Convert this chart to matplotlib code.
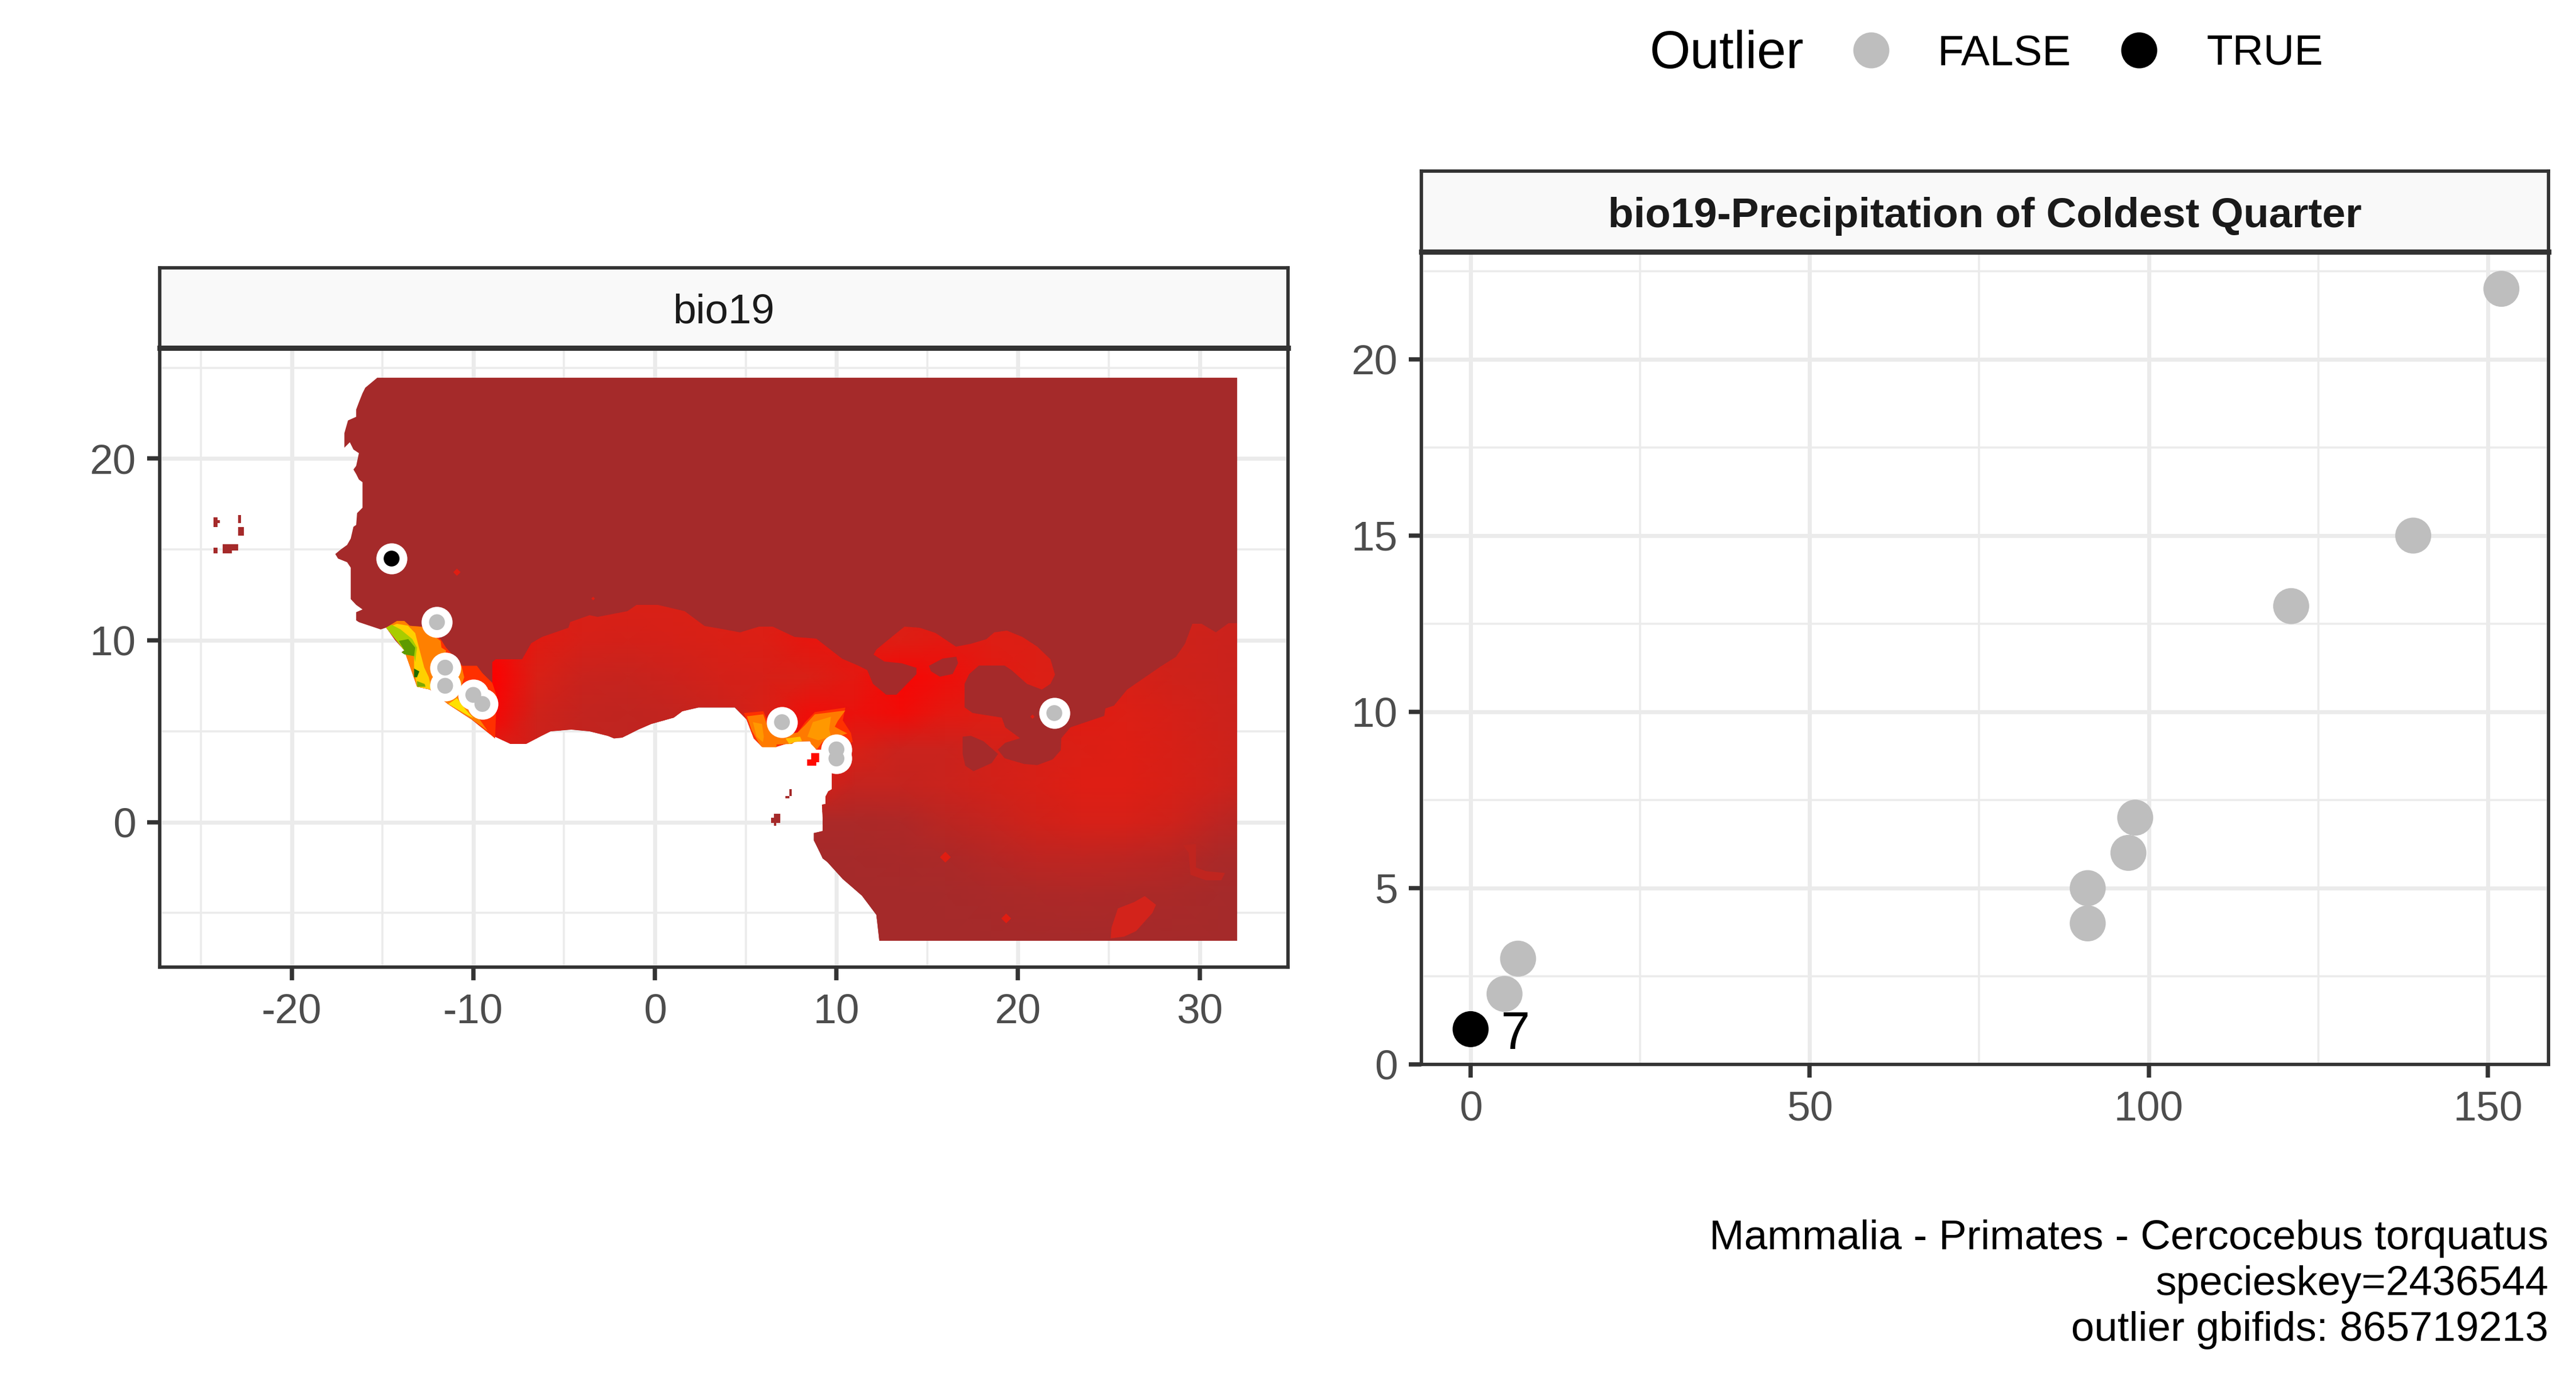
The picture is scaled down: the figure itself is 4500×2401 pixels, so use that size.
import numpy as np
import matplotlib
matplotlib.use("Agg")
import matplotlib.pyplot as plt
from matplotlib.colors import LinearSegmentedColormap
from matplotlib.patches import Polygon

plt.rcParams["font.family"] = ["Liberation Sans", "DejaVu Sans"]

# ---- scatter panel
precip = [0, 5, 7, 91, 91, 97, 98, 121, 139, 152]
occurrences = [1, 2, 3, 4, 5, 6, 7, 13, 15, 22]
is_outlier = [True, False, False, False, False, False, False, False, False, False]

# ---- occurrence points on the map
point_lon = [-14.5, -12.0, -11.55, -11.55, -10.0, -9.5, 7.0, 10.0, 10.0, 22.0]
point_lat = [14.5, 11.0, 8.5, 7.5, 7.0, 6.5, 5.5, 4.0, 3.5, 6.0]
point_outlier = [True, False, False, False, False, False, False, False, False, False]

# ---- land outline, lon/lat
north_coast = [(-15.29, 24.45), (-15.95, 23.9), (-16.1, 23.6), (-16.3, 23.1), (-16.45, 22.7), (-16.45, 22.3),
               (-16.9, 22.1), (-17.1, 21.4), (-17.1, 20.6), (-16.8, 20.9), (-16.6, 20.5), (-16.3, 20.3),
               (-16.45, 19.6), (-16.6, 19.4), (-16.45, 19.15), (-16.3, 18.85), (-16.1, 18.7), (-16.1, 17.3),
               (-16.4, 17.0), (-16.45, 16.35), (-16.6, 16.25), (-16.75, 15.6), (-16.95, 15.25), (-17.3, 15.0),
               (-17.6, 14.75), (-17.45, 14.5), (-16.95, 14.3), (-16.75, 14.0), (-16.75, 12.27), (-16.45, 11.95),
               (-16.1, 11.7), (-16.45, 11.55), (-16.45, 11.1), (-16.3, 11.0), (-15.1, 10.6), (-14.8, 10.7),
               (-14.3, 10.0), (-13.8, 9.45), (-13.95, 9.35), (-13.35, 9.1), (-13.25, 8.0), (-13.1, 7.45),
               (-12.4, 7.3), (-11.4, 6.5), (-10.1, 5.65)]
gulf_coast = [(-9.1, 4.85), (-7.95, 4.3), (-7.1, 4.3), (-6.25, 4.75), (-5.75, 5.0), (-4.6, 5.1), (-3.6, 5.0),
              (-2.6, 4.75), (-2.25, 4.6), (-1.8, 4.65), (-0.9, 5.1), (-0.2, 5.4), (1.05, 5.75), (1.5, 6.1),
              (2.4, 6.3), (4.4, 6.3), (5.05, 5.65), (5.45, 4.6), (5.9, 4.15), (6.7, 4.15), (7.7, 4.45),
              (8.55, 4.45), (8.9, 4.0), (9.75, 4.0), (9.75, 2.6), (9.75, 1.8), (9.55, 1.7), (9.4, 1.4),
              (9.4, 1.0), (9.2, 0.95), (9.25, 0.25), (9.25, -0.5), (8.75, -0.6), (8.75, -1.0), (9.1, -1.7),
              (9.25, -2.0), (9.5, -2.2), (10.35, -3.13), (11.4, -4.05), (12.2, -5.1), (12.37, -6.53)]
map_corners = [(32.07, -6.53), (32.07, 24.45)]

# ---- limit of the wetter zone, west to east, then down the east edge
wet_edge = [(32.07, -6.53), (32.07, 10.95), (31.6, 10.95), (30.9, 10.45), (30.1, 10.9), (29.6, 10.9), (29.2, 9.8),
            (28.7, 9.1), (27.85, 8.55), (26.0, 7.3), (25.3, 6.4), (24.8, 6.25), (24.75, 5.85), (22.9, 5.2),
            (22.4, 4.6), (22.35, 3.95), (21.9, 3.45), (21.05, 3.15), (20.35, 3.2), (19.25, 3.5), (18.9, 4.0),
            (19.3, 4.35), (20.1, 4.6), (19.3, 5.2), (19.1, 5.75), (17.5, 6.0), (17.05, 6.3), (17.05, 7.6),
            (17.3, 8.15), (17.85, 8.6), (19.25, 8.6), (19.65, 8.35), (20.5, 7.6), (21.3, 7.3), (21.8, 7.6),
            (22.05, 8.1), (21.8, 8.95), (21.05, 9.65), (20.25, 10.2), (19.4, 10.55), (18.7, 10.45),
            (18.25, 10.05), (17.4, 9.8), (16.6, 9.65), (15.45, 10.4), (14.6, 10.7), (13.75, 10.75),
            (12.75, 9.95), (12.2, 9.5), (12.05, 9.2), (12.65, 8.85), (13.6, 8.75), (14.4, 8.5), (14.4, 8.15),
            (13.3, 7.0), (12.75, 7.0), (12.0, 7.6), (11.7, 8.35), (11.2, 8.6), (10.3, 9.0), (8.9, 10.1),
            (7.7, 10.2), (6.5, 10.75), (5.75, 10.75), (4.7, 10.45), (3.5, 10.65), (2.75, 10.8), (1.65, 11.6),
            (0.15, 11.95), (-1.0, 11.95), (-1.5, 11.6), (-3.15, 11.3), (-3.6, 11.4), (-4.65, 11.0),
            (-4.75, 10.7), (-6.2, 10.2), (-6.8, 9.85), (-7.3, 8.95), (-8.75, 8.95), (-8.95, 8.8), (-8.95, 7.65)]

dry_blobs = [
    [(16.95, 4.7), (17.4, 4.75), (18.1, 4.45), (18.9, 3.75), (18.55, 3.25), (17.55, 2.8), (17.1, 3.1), (16.95, 3.75)],
    [(15.1, 8.6), (15.85, 9.0), (16.6, 9.1), (16.7, 8.75), (16.4, 8.15), (15.7, 8.0), (15.2, 8.3)],
]
red_patch_south = [(26.98, -4.07), (27.6, -4.55), (27.4, -5.0), (26.5, -6.0), (25.85, -6.3), (25.1, -6.4),
                   (25.15, -5.8), (25.5, -4.75), (26.4, -4.4)]
red_patch_east = [(29.1, -1.27), (29.8, -1.2), (29.8, -2.5), (30.35, -2.7), (31.4, -2.8), (31.2, -3.2),
                  (30.35, -3.2), (29.5, -2.9), (29.4, -1.7)]
# lon, lat, half width
red_spots = [(16.0, -1.93, 0.3), (19.35, -5.3, 0.27), (-10.9, 13.75, 0.2), (-3.4, 12.3, 0.1), (20.8, 5.8, 0.12)]

# little islands as lon0, lon1, lat0, lat1
islands_brown = [(-24.3, -24.1, 14.8, 15.1), (-24.3, -24.1, 16.25, 16.77), (-24.1, -23.95, 16.45, 16.6),
                 (-22.95, -22.8, 16.45, 16.9), (-22.95, -22.65, 15.75, 16.25), (-23.8, -23.3, 14.8, 15.3),
                 (-23.3, -22.95, 14.95, 15.3), (7.4, 7.55, 1.45, 1.8), (7.2, 7.4, 1.3, 1.45),
                 (6.55, 6.9, -0.05, 0.45), (6.4, 6.55, -0.05, 0.25), (6.55, 6.7, -0.2, -0.05)]
islands_red = [(8.6, 9.05, 3.3, 3.8), (8.4, 8.9, 3.1, 3.45)]

# ---- brown to red level of the wet zone (0 brown, 1 pure red), on a coarse lon/lat grid
heat_lon = [-9, -6.5, -4, -1.5, 1, 3.5, 6, 8.5, 11, 13.5, 16, 18.5, 21, 23.5, 26, 28.5, 31, 33]
heat_lat = [12, 10, 8, 6, 4, 2, 0, -2, -4, -6.6]
heat = [
    [.85, .78, .72, .72, .72, .75, .75, .78, .78, .72, .72, .72, .72, .70, .68, .65, .60, .55],
    [.90, .78, .68, .66, .68, .72, .75, .82, .82, .76, .80, .76, .75, .70, .70, .62, .58, .55],
    [1.0, .72, .55, .52, .58, .66, .68, .72, .80, .95, .88, .80, .75, .72, .70, .62, .58, .55],
    [.95, .62, .48, .44, .48, .56, .72, .88, .85, .90, .80, .76, .74, .78, .75, .68, .60, .55],
    [.78, .58, .44, .44, .48, .56, .85, .92, .72, .56, .56, .66, .70, .74, .76, .70, .62, .55],
    [.60, .60, .60, .60, .60, .60, .70, .70, .50, .50, .56, .64, .70, .76, .76, .70, .60, .48],
    [.10, .10, .10, .10, .10, .10, .10, .10, .10, .14, .34, .50, .62, .68, .68, .60, .38, .22],
    [.00, .00, .00, .00, .00, .00, .00, .00, .02, .05, .10, .24, .38, .42, .38, .30, .10, .06],
    [.00, .00, .00, .00, .00, .00, .00, .00, .00, .00, .02, .06, .12, .15, .12, .08, .02, .00],
    [.00, .00, .00, .00, .00, .00, .00, .00, .00, .00, .00, .00, .00, .00, .00, .00, .00, .00],
]

# ---- wettest coast, nested patches: outer colour first
west_hot = [
    ("#FF3000", [(-14.8, 10.7), (-14.2, 11.07), (-13.8, 11.07), (-13.5, 10.8), (-12.85, 10.75), (-11.8, 10.07),
                 (-11.5, 9.6), (-10.6, 8.6), (-9.8, 8.6), (-9.5, 8.2), (-8.95, 7.66), (-8.7, 6.9), (-8.75, 5.9),
                 (-8.8, 4.6), (-9.1, 4.85), (-10.1, 5.65), (-11.4, 6.5), (-12.4, 7.3), (-13.1, 7.45),
                 (-13.8, 9.45)]),
    ("#FF8000", [(-14.8, 10.7), (-14.2, 11.07), (-13.8, 11.07), (-13.5, 10.8), (-12.85, 10.75), (-11.8, 9.97),
                 (-11.75, 9.6), (-11.5, 9.44), (-11.6, 8.8), (-10.65, 8.6), (-10.5, 7.97), (-10.85, 6.92),
                 (-9.8, 5.87), (-9.2, 5.0), (-9.5, 5.24), (-10.1, 5.66), (-11.4, 6.5), (-12.4, 7.3), (-13.1, 7.45),
                 (-13.8, 9.45)]),
    ("#FFD000", [(-14.8, 10.7), (-14.2, 10.91), (-13.6, 10.81), (-13.2, 10.4), (-12.95, 9.44), (-12.7, 8.5),
                 (-12.45, 7.97), (-12.3, 7.29), (-13.1, 7.45), (-13.26, 8.5), (-13.26, 9.13), (-13.8, 9.44),
                 (-14.2, 9.97)]),
    ("#FFE000", [(-11.37, 6.5), (-10.9, 6.82), (-10.42, 6.19), (-10.0, 5.72), (-10.3, 5.87)]),
    ("#A8CC00", [(-14.8, 10.7), (-14.5, 10.86), (-14.0, 10.6), (-13.36, 10.07), (-13.1, 9.6), (-13.2, 8.81),
                 (-13.26, 9.13), (-13.8, 9.44), (-14.2, 9.97)]),
    ("#5E9A00", [(-14.1, 9.97), (-13.58, 10.07), (-13.2, 9.6), (-13.26, 9.13), (-13.8, 9.23), (-13.95, 9.34),
                 (-13.8, 9.45)]),
    ("#1F6B00", [(-13.26, 8.45), (-12.97, 8.29), (-13.1, 7.97), (-13.26, 7.97)]),
    ("#7FA800", [(-13.1, 7.76), (-12.68, 7.6), (-12.63, 7.45), (-13.1, 7.45)]),
]
central_hot = [
    ("#FF3000", [(4.9, 6.0), (5.97, 6.1), (6.2, 5.6), (6.81, 4.75), (7.86, 4.93), (8.28, 5.5), (8.81, 6.05),
                 (10.49, 6.3), (10.35, 5.6), (10.8, 4.9), (10.9, 4.4), (9.23, 3.99), (8.9, 4.0), (8.55, 4.45),
                 (7.7, 4.45), (6.7, 4.15), (5.9, 4.15), (5.45, 4.6), (5.05, 5.65)]),
    ("#FF7A00", [(5.07, 5.82), (5.97, 5.93), (6.18, 5.35), (6.81, 4.72), (7.86, 4.93), (8.28, 5.35), (8.81, 5.93),
                 (10.49, 6.14), (10.07, 5.56), (9.91, 5.25), (10.28, 5.04), (10.6, 4.88), (9.23, 4.41), (8.91, 3.99),
                 (8.6, 4.3), (8.54, 4.46), (7.7, 4.41), (7.55, 4.3), (6.7, 4.27), (6.7, 4.12), (5.92, 4.12),
                 (5.76, 4.3), (5.34, 5.04)]),
    ("#FF9800", [(5.4, 5.5), (5.9, 5.4), (6.0, 4.7), (5.95, 4.4), (5.6, 4.7)]),
    ("#FF9800", [(8.7, 5.5), (9.7, 5.8), (9.6, 5.1), (9.7, 4.7), (9.0, 4.5), (8.4, 4.7)]),
    ("#FFC000", [(7.2, 4.6), (8.0, 4.7), (8.1, 4.46), (7.7, 4.41), (7.4, 4.3)]),
]

# axis labels
map_xticks = [-20, -10, 0, 10, 20, 30]
map_xminor = [-25, -15, -5, 5, 15, 25]
map_yticks = [0, 10, 20]
map_yminor = [-5, 5, 15, 25]
sc_xticks = [0, 50, 100, 150]
sc_xminor = [25, 75, 125]
sc_yticks = [0, 5, 10, 15, 20]
sc_yminor = [2.5, 7.5, 12.5, 17.5, 22.5]

legend_title = "Outlier"
legend_labels = ["FALSE", "TRUE"]
caption = ["Mammalia - Primates - Cercocebus torquatus", "specieskey=2436544", "outlier gbifids: 865719213"]

W, H = 4500, 2401
DARK = "#333333"
GREY = "#BEBEBE"
BROWN = "#A52A2A"
TICK_COL = "#4D4D4D"

fig = plt.figure(figsize=(W / 300, H / 300), dpi=300, facecolor="white")


def box(x0, y0, x1, y1):
    # pixel box (from top left) to figure fractions
    return [x0 / W, 1 - y1 / H, (x1 - x0) / W, (y1 - y0) / H]


def style_panel(ax, xt, xm, yt, ym):
    ax.set_xticks(xt)
    ax.set_xticklabels([str(v) for v in xt])
    ax.set_yticks(yt)
    ax.set_yticklabels([str(v) for v in yt])
    ax.set_xticks(xm, minor=True)
    ax.set_yticks(ym, minor=True)
    ax.grid(which="major", color="#EBEBEB", lw=1.7)
    ax.grid(which="minor", color="#EBEBEB", lw=0.85)
    ax.set_axisbelow(True)
    ax.tick_params(which="major", length=5.4, width=1.8, color=DARK, labelcolor=TICK_COL, labelsize=17.5, pad=4.5)
    ax.tick_params(axis="x", which="major", pad=5.5)
    ax.tick_params(which="minor", length=0)
    for s in ax.spines.values():
        s.set_color(DARK)
        s.set_linewidth(1.4)
        s.set_zorder(10)


def strip(x0, y0, x1, y1, label, weight):
    st = fig.add_axes(box(x0, y0, x1, y1), facecolor="#F9F9F9")
    st.set_xticks([])
    st.set_yticks([])
    for s in st.spines.values():
        s.set_color(DARK)
        s.set_linewidth(1.4)
    st.spines["bottom"].set_linewidth(2.2)
    st.text(0.5, 0.44, label, ha="center", va="center", fontsize=17.5, fontweight=weight, color="#1A1A1A",
            transform=st.transAxes)


# ---- map
ax1 = fig.add_axes(box(279, 608, 2250, 1690))
ax1.set_xlim(-27.27, 34.87)
ax1.set_ylim(-7.98, 26.09)
style_panel(ax1, map_xticks, map_xminor, map_yticks, map_yminor)

land = north_coast + gulf_coast + map_corners
ax1.add_patch(Polygon(land, closed=True, fc=BROWN, ec="none", zorder=2))

heat_cmap = LinearSegmentedColormap.from_list(
    "heat", [(0, BROWN), (0.5, "#C4241F"), (0.75, "#DC1F15"), (1, "#FF0000")], N=256)
wet_zone = Polygon(gulf_coast + wet_edge, closed=True, transform=ax1.transData, fc="none", ec="none")
ax1.add_patch(wet_zone)
mesh = ax1.pcolormesh(heat_lon, heat_lat, np.array(heat), shading="gouraud", cmap=heat_cmap, vmin=0, vmax=1, zorder=3)
mesh.set_clip_path(wet_zone)

for blob in dry_blobs:
    ax1.add_patch(Polygon(blob, closed=True, fc=BROWN, ec="none", zorder=4))
ax1.add_patch(Polygon(red_patch_south, closed=True, fc="#D3231B", ec="none", zorder=4))
ax1.add_patch(Polygon(red_patch_east, closed=True, fc="#C0251F", ec="none", zorder=4))
for lon, lat, r in red_spots:
    ax1.add_patch(Polygon([(lon - r, lat), (lon, lat + r), (lon + r, lat), (lon, lat - r)], fc="#E01D12", ec="none", zorder=4))
for lon0, lon1, lat0, lat1 in islands_brown:
    ax1.fill([lon0, lon1, lon1, lon0], [lat0, lat0, lat1, lat1], color=BROWN, lw=0, zorder=4)
for lon0, lon1, lat0, lat1 in islands_red:
    ax1.fill([lon0, lon1, lon1, lon0], [lat0, lat0, lat1, lat1], color="#FF0A00", lw=0, zorder=4)
for col, pts in west_hot + central_hot:
    ax1.add_patch(Polygon(pts, closed=True, fc=col, ec="none", zorder=5))

ax1.scatter(point_lon, point_lat, s=13.0 ** 2, c="white", lw=0, zorder=6)
ax1.scatter(point_lon, point_lat, s=6.65 ** 2, c=["black" if o else GREY for o in point_outlier], lw=0, zorder=7)
strip(279, 468, 2250, 608, "bio19", "normal")

# ---- scatter
ax2 = fig.add_axes(box(2483, 440, 4452, 1860))
ax2.set_xlim(-7.26, 158.95)
ax2.set_ylim(0, 23.05)
style_panel(ax2, sc_xticks, sc_xminor, sc_yticks, sc_yminor)
ax2.scatter(precip, occurrences, s=15.1 ** 2, c=["black" if o else GREY for o in is_outlier], lw=0, zorder=3,
            clip_on=False)
ax2.text(4.4, 0.44, "7", fontsize=22, color="black", va="baseline", ha="left", zorder=4)
strip(2483, 299, 4452, 440, "bio19-Precipitation of Coldest Quarter", "bold")

# ---- legend drawn on a pixel overlay
ov = fig.add_axes([0, 0, 1, 1], facecolor="none")
ov.set_xlim(0, W)
ov.set_ylim(H, 0)
ov.axis("off")
ov.text(2882, 95, legend_title, fontsize=22, va="center", ha="left", color="black")
ov.scatter([3269, 3737], [88, 88], s=15.1 ** 2, c=[GREY, "black"], lw=0)
ov.text(3385, 94, legend_labels[0], fontsize=18, va="center", ha="left", color="black")
ov.text(3854, 94, legend_labels[1], fontsize=18, va="center", ha="left", color="black")
for base, line in zip([2183, 2263, 2343], caption):
    ov.text(4452, base, line, fontsize=17.5, va="baseline", ha="right", color="black")

fig.savefig("out.png", dpi=300)
